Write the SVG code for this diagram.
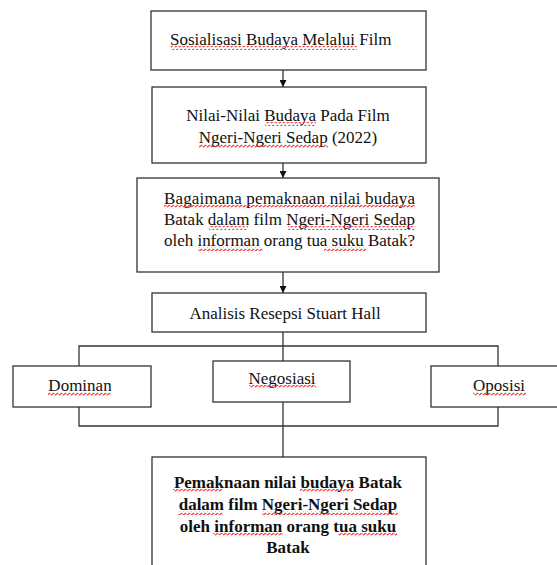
<svg xmlns="http://www.w3.org/2000/svg" width="557" height="565" viewBox="0 0 557 565">
<style>
.box{fill:#fff;stroke:#333;stroke-width:1.3}
.ln{fill:none;stroke:#333;stroke-width:1.3}
.t{font-family:"Liberation Serif","Times New Roman",serif;font-size:17px;fill:#111}
.c{text-anchor:middle}
.b{font-weight:bold}
.sp{fill:url(#wave)}
</style>
<defs>
<pattern id="wave" patternUnits="userSpaceOnUse" width="4" height="4">
<path d="M0,3 Q1,0 2,1.5 T4,3" fill="none" stroke="#e02828" stroke-width="1"/>
</pattern>
<marker id="ah" viewBox="0 0 10 10" refX="10" refY="5" markerWidth="7" markerHeight="7" markerUnits="userSpaceOnUse" orient="auto">
<path d="M0,0 L10,5 L0,10 Z" fill="#111"/>
</marker>
</defs>
<rect width="557" height="565" fill="#fff"/>
<g id="connectors">
<line class="ln" x1="283" y1="70" x2="283" y2="87" marker-end="url(#ah)"/>
<line class="ln" x1="283" y1="163" x2="283" y2="178" marker-end="url(#ah)"/>
<line class="ln" x1="283" y1="272" x2="283" y2="293" marker-end="url(#ah)"/>
<line class="ln" x1="283" y1="332" x2="283" y2="361"/>
<polyline class="ln" points="79,366 79,346 498,346 498,366"/>
<polyline class="ln" points="79,407 79,426 498,426 498,407"/>
<line class="ln" x1="283" y1="402" x2="283" y2="457"/>
</g>
<g id="n1">
<rect class="box" x="151" y="11" width="275" height="59"/>
<text class="t" x="170" y="45">Sosialisasi Budaya Melalui Film</text>
<rect class="sp" x="170" y="46" width="187" height="4"/>
</g>
<g id="n2">
<rect class="box" x="152" y="87" width="274" height="76"/>
<text class="t c" x="288" y="121">Nilai-Nilai Budaya Pada Film</text>
<text class="t c" x="288" y="143">Ngeri-Ngeri Sedap (2022)</text>
<rect class="sp" x="265" y="122" width="51" height="4"/>
<rect class="sp" x="199" y="144" width="129" height="4"/>
</g>
<g id="n3">
<rect class="box" x="137" y="178" width="302" height="94"/>
<text class="t" x="164" y="204" textLength="251" lengthAdjust="spacing">Bagaimana pemaknaan nilai budaya</text>
<text class="t" x="164" y="225" textLength="251" lengthAdjust="spacing">Batak dalam film Ngeri-Ngeri Sedap</text>
<text class="t" x="164" y="246" textLength="251" lengthAdjust="spacing">oleh informan orang tua suku Batak?</text>
<rect class="sp" x="164" y="205" width="251" height="4"/>
<rect class="sp" x="209" y="226" width="39" height="4"/>
<rect class="sp" x="288" y="226" width="127" height="4"/>
<rect class="sp" x="198" y="247" width="65" height="4"/>
<rect class="sp" x="324" y="247" width="42" height="4"/>
</g>
<g id="n4">
<rect class="box" x="152" y="293" width="274" height="39"/>
<text class="t c" x="285" y="319">Analisis Resepsi Stuart Hall</text>
</g>
<g id="n5">
<rect class="box" x="13" y="366" width="138" height="41"/>
<text class="t c" x="80" y="391">Dominan</text>
<rect class="sp" x="48" y="392" width="63" height="4"/>
</g>
<g id="n6">
<rect class="box" x="213" y="361" width="137" height="41"/>
<text class="t c" x="282" y="384">Negosiasi</text>
<rect class="sp" x="249" y="385" width="67" height="4"/>
</g>
<g id="n7">
<rect class="box" x="431" y="366" width="130" height="41"/>
<text class="t c" x="499" y="391">Oposisi</text>
<rect class="sp" x="473" y="392" width="53" height="4"/>
</g>
<g id="n8">
<rect class="box" x="152" y="457" width="274" height="120"/>
<text class="t c b" x="288" y="488">Pemaknaan nilai budaya Batak</text>
<text class="t c b" x="288" y="510">dalam film Ngeri-Ngeri Sedap</text>
<text class="t c b" x="288" y="532">oleh informan orang tua suku</text>
<text class="t c b" x="288" y="553">Batak</text>
<rect class="sp" x="173" y="489" width="49" height="4"/>
<rect class="sp" x="300" y="489" width="53" height="4"/>
<rect class="sp" x="178" y="511" width="45" height="4"/>
<rect class="sp" x="262" y="511" width="136" height="4"/>
<rect class="sp" x="213" y="533" width="70" height="4"/>
<rect class="sp" x="338" y="533" width="59" height="4"/>
</g>
</svg>
